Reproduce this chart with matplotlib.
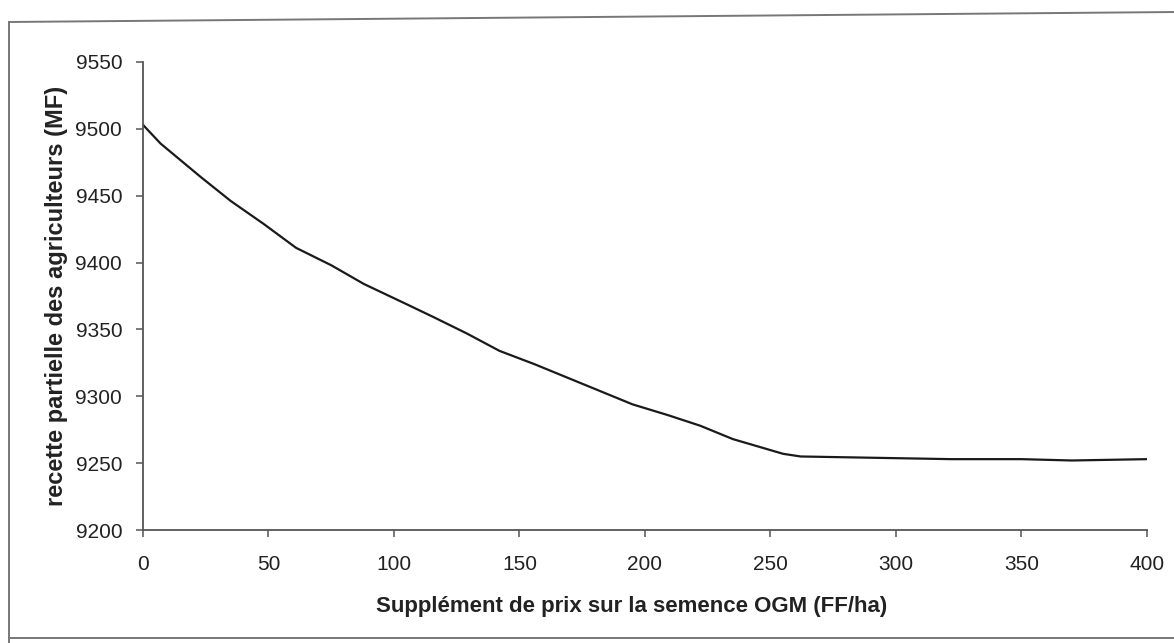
import numpy as np
import matplotlib.pyplot as plt
from matplotlib.lines import Line2D

plt.rcParams['font.family'] = ['Liberation Sans', 'DejaVu Sans']

# supplement de prix (FF/ha) et recette partielle (MF)
supplement = [0, 7, 23, 35, 48, 61, 75, 88, 106, 116, 129, 142, 156, 169,
              182, 195, 209, 222, 235, 255, 262, 322, 350, 370, 400]
recette = [9503, 9489, 9464, 9446, 9429, 9411, 9398, 9384, 9368, 9359, 9347,
           9334, 9324, 9314, 9304, 9294, 9286, 9278, 9268, 9257, 9255, 9253,
           9253, 9252, 9253]

x_ticks = [0, 50, 100, 150, 200, 250, 300, 350, 400]
y_ticks = [9200, 9250, 9300, 9350, 9400, 9450, 9500, 9550]

fig = plt.figure(figsize=(11.74, 6.43), dpi=100)
ax = fig.add_axes([0.1218, 0.1757, 0.8552, 0.7279])

ax.plot(supplement, recette, color='#1a1a1a', lw=1.6)

ax.set_xlim(0, 400)
ax.set_ylim(9200, 9550)
ax.set_xticks(x_ticks)
ax.set_yticks(y_ticks)
for s in ['top', 'right']:
    ax.spines[s].set_visible(False)
for s in ['left', 'bottom']:
    ax.spines[s].set_color('#555555')
    ax.spines[s].set_linewidth(1.3)
ax.tick_params(axis='both', direction='out', length=5, width=1.1,
               color='#555555', labelsize=15, labelcolor='#222222')
ax.tick_params(axis='x', pad=13)
ax.tick_params(axis='y', pad=10)

ax.set_xlabel('Supplément de prix sur la semence OGM (FF/ha)',
              fontsize=16, fontweight='bold', color='#222222', labelpad=16)
ax.xaxis.label.set_x(0.487)
ax.set_ylabel('recette partielle des agriculteurs (MF)',
              fontsize=17, fontweight='bold', color='#222222', labelpad=5)

# cadre autour du graphique
frame = dict(color='#777777', lw=1.4, transform=fig.transFigure)
fig.add_artist(Line2D([0.0077, 1.0], [0.9658, 0.9813], **frame))
fig.add_artist(Line2D([0.0077, 0.0077], [0.0, 0.9658], **frame))
fig.add_artist(Line2D([0.0077, 1.0], [0.0078, 0.0078], **frame))

fig.savefig('out.png', dpi=100, facecolor='white')
